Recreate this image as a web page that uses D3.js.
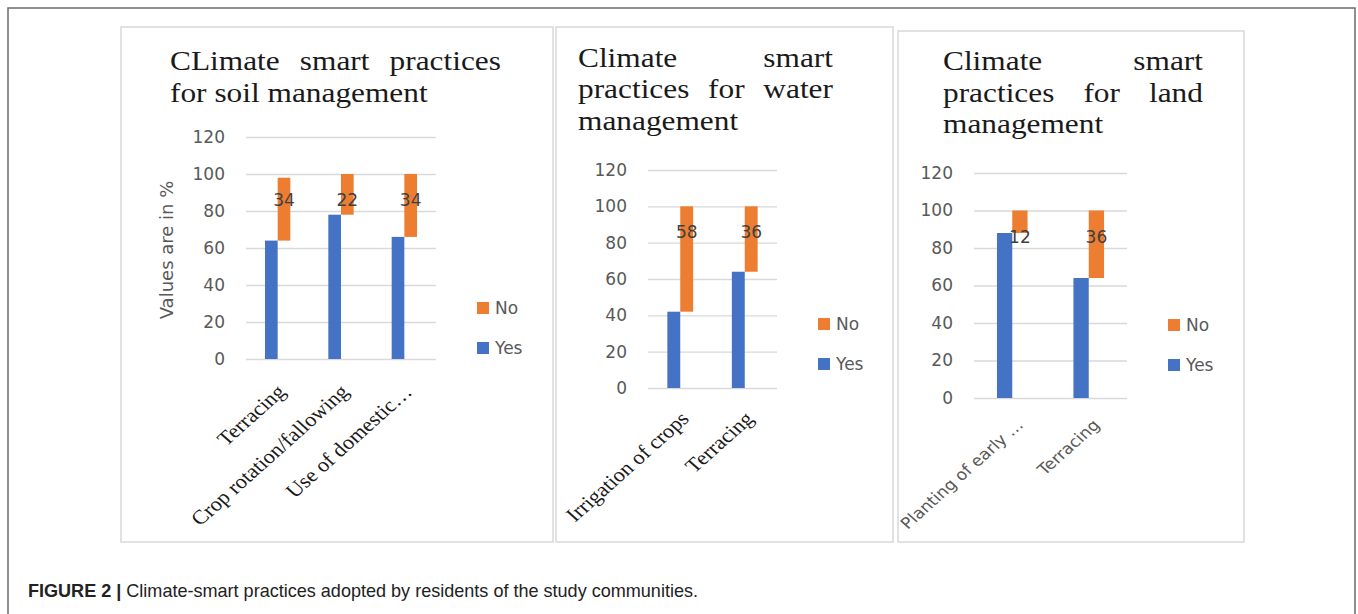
<!DOCTYPE html>
<html lang="en">
<head>
<meta charset="utf-8">
<title>Climate-smart practices</title>
<script src="https://d3js.org/d3.v7.min.js"></script>
<style>
  body { margin: 0; background: #fff; }
  svg { display: block; }
  .title { font-family: "Liberation Serif", "Times New Roman", serif; font-size: 28px; fill: #1a1a1a; }
  .tick text { font-family: "DejaVu Sans", sans-serif; font-size: 17px; fill: #595959; }
  .legend text { font-family: "DejaVu Sans", sans-serif; font-size: 17px; fill: #595959; }
</style>
</head>
<body>
<script>
// values, in percent
var soilCats = ["Terracing", "Crop rotation/fallowing", "Use of domestic\u2026"];
var soilYes = [64, 78, 66];
var soilNo = [34, 22, 34];

var waterCats = ["Irrigation  of crops", "Terracing"];
var waterYes = [42, 64];
var waterNo = [58, 36];

var landCats = ["Planting of early \u2026", "Terracing"];
var landYes = [88, 64];
var landNo = [12, 36];

var yTicks = [0, 20, 40, 60, 80, 100, 120];
var seriesNames = ["No", "Yes"];
var color = d3.scaleOrdinal().domain(["Yes", "No"]).range(["#4472C4", "#ED7D31"]);

var SX = 1.12;   // the figure is slightly stretched sideways
var labelAt = 86;

var svg = d3.select("body").append("svg")
    .attr("width", 1358)
    .attr("height", 614);

// outer frame of the figure
svg.append("path")
    .attr("d", "M8,614V8H1355V614")
    .attr("fill", "none")
    .attr("stroke", "#6b6b6b")
    .attr("stroke-width", 1.5);

var panels = [
    {box: [121, 27, 553, 542], title: ["CLimate smart practices", "for soil management"],
     tx: [170, 501], ty: [70, 102], plot: [246, 436, 137, 359],
     cats: soilCats, yes: soilYes, no: soilNo, serif: true, yTitle: "Values are in %",
     legend: [477, 302], lab: [9, 34]},
    {box: [556, 27, 893, 542], title: ["Climate smart", "practices for water", "management"],
     tx: [578, 833], ty: [67, 98, 130], plot: [648, 777, 170, 388],
     cats: waterCats, yes: waterYes, no: waterNo, serif: true,
     legend: [818, 318], lab: [10, 32]},
    {box: [898, 31, 1244, 542], title: ["Climate smart", "practices for land", "management"],
     tx: [943, 1203], ty: [70, 102, 133], plot: [974, 1127, 173, 398],
     cats: landCats, yes: landYes, no: landNo, serif: false,
     legend: [1168, 319], lab: [12, 28]}
];

panels.forEach(function(p) {
    var g = svg.append("g");

    g.append("rect")
        .attr("x", p.box[0]).attr("y", p.box[1])
        .attr("width", p.box[2] - p.box[0]).attr("height", p.box[3] - p.box[1])
        .attr("fill", "#fff")
        .attr("stroke", "#d9d9d9")
        .attr("stroke-width", 1.5);

    // justified title, last line left aligned
    p.title.forEach(function(line, li) {
        var words = line.split(" ");
        var texts = words.map(function(w) {
            return g.append("text").attr("class", "title").text(w);
        });
        var widths = texts.map(function(t) { return t.node().getComputedTextLength() * SX; });
        var last = li === p.title.length - 1;
        var gap = (last || words.length < 2) ? 7.8 : (p.tx[1] - p.tx[0] - d3.sum(widths)) / (words.length - 1);
        var x = p.tx[0];
        texts.forEach(function(t, i) {
            t.attr("transform", "translate(" + x + "," + p.ty[li] + ") scale(" + SX + ",1)");
            x += widths[i] + gap;
        });
    });

    var x = d3.scaleBand().domain(p.cats).range([p.plot[0], p.plot[1]]);
    var y = d3.scaleLinear().domain([0, 120]).range([p.plot[3], p.plot[2]]);
    var bw = x.bandwidth() * 0.2;

    // value axis with gridlines
    var yAxis = g.append("g")
        .attr("transform", "translate(" + p.plot[0] + ",0)")
        .call(d3.axisLeft(y).tickValues(yTicks)
            .tickSize(-(p.plot[1] - p.plot[0])).tickPadding(21));
    yAxis.select(".domain").remove();
    yAxis.selectAll(".tick line").attr("stroke", "#d9d9d9").attr("stroke-width", 1.3);

    // category axis, rotated labels
    var xAxis = g.append("g")
        .attr("transform", "translate(0," + p.plot[3] + ")")
        .call(d3.axisBottom(x).tickSize(0).tickPadding(0));
    xAxis.select(".domain").remove();
    xAxis.selectAll(".tick text")
        .attr("y", 0).attr("dy", 0)
        .attr("text-anchor", "end")
        .attr("transform", "translate(" + p.lab[0] + "," + p.lab[1] + ") scale(" + SX + ",1) rotate(-45)")
        .style("font-family", p.serif ? "'Liberation Serif', 'Times New Roman', serif" : "'DejaVu Sans', sans-serif")
        .style("font-size", p.serif ? "20px" : "15.5px")
        .style("fill", p.serif ? "#1a1a1a" : "#595959");

    var rows = p.cats.map(function(c, i) { return {cat: c, yes: p.yes[i], no: p.no[i]}; });

    g.selectAll(".bar-yes").data(rows).enter().append("rect")
        .attr("x", function(d) { return x(d.cat) + x.bandwidth() / 2 - bw; })
        .attr("y", function(d) { return y(d.yes); })
        .attr("width", bw)
        .attr("height", function(d) { return y(0) - y(d.yes); })
        .attr("fill", color("Yes"));

    g.selectAll(".bar-no").data(rows).enter().append("rect")
        .attr("x", function(d) { return x(d.cat) + x.bandwidth() / 2; })
        .attr("y", function(d) { return y(d.yes + d.no); })
        .attr("width", bw)
        .attr("height", function(d) { return y(d.yes) - y(d.yes + d.no); })
        .attr("fill", color("No"));

    g.selectAll(".lbl").data(rows).enter().append("text")
        .attr("x", function(d) { return x(d.cat) + x.bandwidth() / 2 + bw / 2; })
        .attr("y", y(labelAt))
        .attr("dy", "0.36em")
        .attr("text-anchor", "middle")
        .style("font-family", "'DejaVu Sans', sans-serif")
        .style("font-size", "17px")
        .style("fill", "#404040")
        .text(function(d) { return d.no; });

    if (p.yTitle) {
        g.append("text")
            .attr("transform", "translate(167,250) rotate(-90)")
            .attr("text-anchor", "middle")
            .attr("dy", "0.35em")
            .style("font-family", "'DejaVu Sans', sans-serif")
            .style("font-size", "18px")
            .style("fill", "#595959")
            .text(p.yTitle);
    }

    var leg = g.append("g").attr("class", "legend")
        .attr("transform", "translate(" + p.legend[0] + "," + p.legend[1] + ")");
    var item = leg.selectAll("g").data(seriesNames).enter().append("g")
        .attr("transform", function(d, i) { return "translate(0," + (i * 40) + ")"; });
    item.append("rect").attr("width", 12).attr("height", 12)
        .attr("fill", function(d) { return color(d); });
    item.append("text").attr("x", 18).attr("y", 6).attr("dy", "0.36em").text(function(d) { return d; });
});

// caption
var cap = svg.append("text")
    .attr("x", 28).attr("y", 597)
    .attr("textLength", 670)
    .attr("lengthAdjust", "spacingAndGlyphs")
    .style("font-family", "'Liberation Sans Narrow', 'Liberation Sans', Arial, sans-serif")
    .style("font-size", "19px")
    .style("fill", "#222");
cap.append("tspan").style("font-weight", "bold").text("FIGURE 2 | ");
cap.append("tspan").text("Climate-smart practices adopted by residents of the study communities.");
</script>
</body>
</html>
